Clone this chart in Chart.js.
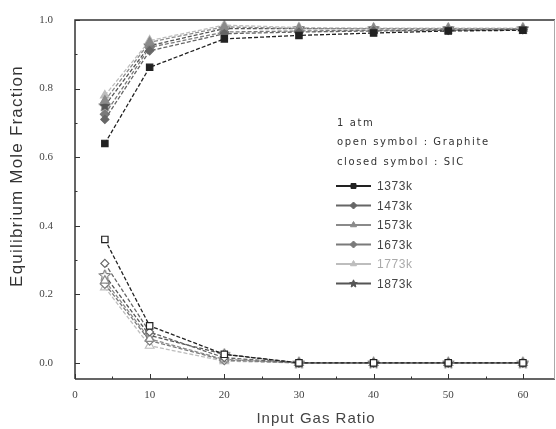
<!DOCTYPE html>
<html>
<head>
<meta charset="utf-8">
<script src="https://cdn.jsdelivr.net/npm/chart.js@4.4.0/dist/chart.umd.min.js"></script>
<style>
  body { margin: 0; background: #fff; }
  #wrap { width: 556px; height: 429px; position: relative; }
</style>
</head>
<body>
<div id="wrap"><canvas id="chart"></canvas></div>
<script>
// input gas ratio
const ratios = [4, 10, 20, 30, 40, 50, 60];
const temps = ["1373k", "1473k", "1573k", "1673k", "1773k", "1873k"];

// closed symbol : SiC
const sic1373 = [0.64, 0.862, 0.945, 0.955, 0.962, 0.968, 0.97];
const sic1473 = [0.71, 0.91, 0.96, 0.965, 0.968, 0.97, 0.972];
const sic1573 = [0.765, 0.935, 0.98, 0.975, 0.975, 0.975, 0.975];
const sic1673 = [0.725, 0.92, 0.965, 0.968, 0.97, 0.972, 0.973];
const sic1773 = [0.78, 0.94, 0.985, 0.978, 0.976, 0.976, 0.976];
const sic1873 = [0.75, 0.925, 0.975, 0.975, 0.975, 0.975, 0.975];

// open symbol : Graphite
const gr1373 = [0.36, 0.108, 0.025, 0.0, 0.0, 0.0, 0.0];
const gr1473 = [0.29, 0.09, 0.015, 0.0, 0.0, 0.0, 0.0];
const gr1573 = [0.24, 0.07, 0.01, 0.0, 0.0, 0.0, 0.0];
const gr1673 = [0.23, 0.065, 0.008, 0.0, 0.0, 0.0, 0.0];
const gr1773 = [0.22, 0.05, 0.005, 0.0, 0.0, 0.0, 0.0];
const gr1873 = [0.255, 0.08, 0.025, 0.0, 0.0, 0.0, 0.0];

const yTicks = [0, 0.2, 0.4, 0.6, 0.8, 1.0];
const xTicks = [0, 10, 20, 30, 40, 50, 60];

const colors = ["#222222", "#666666", "#8a8a8a", "#7a7a7a", "#bdbdbd", "#555555"];

// star marker drawn on a small canvas
function starCanvas(col, filled, size) {
    const c = document.createElement("canvas");
    c.width = size; c.height = size;
    const g = c.getContext("2d");
    const m = size / 2, R = size / 2 - 0.5;
    g.beginPath();
    for (let k = 0; k < 10; k++) {
        const r = k % 2 == 0 ? R : R * 0.45;
        const a = -Math.PI / 2 + k * Math.PI / 5;
        const px = m + r * Math.cos(a), py = m + 0.3 + r * Math.sin(a);
        if (k == 0) g.moveTo(px, py); else g.lineTo(px, py);
    }
    g.closePath();
    g.fillStyle = filled ? col : "#fff";
    g.fill();
    g.strokeStyle = col;
    g.lineWidth = 1;
    g.stroke();
    return c;
}

const styles = ["rect", "rectRot", "triangle", "rectRot", "triangle", "star"];
const radii = [4.5, 4, 5, 4.5, 5, 6];
const sicData = [sic1373, sic1473, sic1573, sic1673, sic1773, sic1873];
const grData = [gr1373, gr1473, gr1573, gr1673, gr1773, gr1873];

function mk(label, vals, i, filled) {
    let ps = styles[i];
    if (ps == "star") ps = starCanvas(colors[i], filled, 13);
    return {
        label: label,
        data: ratios.map((x, j) => ({ x: x, y: vals[j] })),
        borderColor: colors[i],
        backgroundColor: filled ? colors[i] : "#fff",
        pointBackgroundColor: filled ? colors[i] : "#fff",
        pointBorderColor: colors[i],
        pointStyle: ps,
        pointRadius: radii[i],
        pointBorderWidth: 1.2,
        borderWidth: 1.3,
        borderDash: [4, 2],
        tension: 0,
    };
}

const datasets = [];
temps.forEach((t, i) => datasets.push(mk(t, sicData[i], i, true)));
temps.forEach((t, i) => datasets.push(mk(t + " graphite", grData[i], i, false)));

// inward ticks, frame, axis titles and text legend
const extras = {
    id: "extras",
    afterDraw(chart) {
        const ctx = chart.ctx;
        const a = chart.chartArea;
        const xs = chart.scales.x, ys = chart.scales.y;
        ctx.save();
        ctx.strokeStyle = "#333";
        ctx.lineWidth = 1.5;
        ctx.beginPath();
        ctx.moveTo(a.left, a.bottom); ctx.lineTo(a.left, a.top); ctx.lineTo(a.right, a.top);
        ctx.moveTo(a.left, a.bottom); ctx.lineTo(a.right, a.bottom);
        ctx.stroke();
        ctx.strokeStyle = "#aaa";
        ctx.lineWidth = 1;
        ctx.beginPath();
        ctx.moveTo(a.right - 0.5, a.top); ctx.lineTo(a.right - 0.5, a.bottom);
        ctx.stroke();
        ctx.strokeStyle = "#333";
        ctx.beginPath();
        for (let v = 0; v <= 60; v += 5) {
            const px = Math.round(xs.getPixelForValue(v)) + 0.5;
            const len = v % 10 == 0 ? 5 : 2.5;
            ctx.moveTo(px, a.bottom); ctx.lineTo(px, a.bottom - len);
        }
        for (let k = 0; k <= 10; k++) {
            const py = Math.round(ys.getPixelForValue(k / 10)) + 0.5;
            const len = k % 2 == 0 ? 5 : 2.5;
            ctx.moveTo(a.left, py); ctx.lineTo(a.left + len, py);
        }
        ctx.stroke();

        // axis titles
        ctx.textAlign = "center";
        ctx.textBaseline = "middle";
        ctx.fillStyle = "#444";
        ctx.font = "15px 'Liberation Sans'";
        ctx.letterSpacing = "1px";
        ctx.fillText("Input Gas Ratio", 316, 419);
        ctx.save();
        ctx.translate(17, 176);
        ctx.rotate(-Math.PI / 2);
        ctx.fillStyle = "#333";
        ctx.font = "17px 'Liberation Sans'";
        ctx.letterSpacing = "1.2px";
        ctx.fillText("Equilibrium Mole Fraction", 0, 0);
        ctx.restore();

        // legend text
        ctx.textAlign = "left";
        ctx.fillStyle = "#333";
        ctx.font = "10px 'DejaVu Sans'";
        ctx.letterSpacing = "1.6px";
        ctx.fillText("1 atm", 337, 123);
        ctx.fillText("open symbol : Graphite", 337, 142);
        ctx.fillText("closed symbol : SIC", 337, 162);
        ctx.letterSpacing = "0.6px";
        ctx.font = "12px 'Liberation Sans'";
        for (let i = 0; i < 6; i++) {
            const ds = chart.data.datasets[i];
            const y = 186 + i * 19.5;
            ctx.strokeStyle = colors[i];
            ctx.fillStyle = colors[i];
            ctx.lineWidth = 2;
            ctx.setLineDash([]);
            ctx.beginPath();
            ctx.moveTo(336, y); ctx.lineTo(371, y);
            ctx.stroke();
            ctx.lineWidth = 1;
            const ps = i == 5 ? starCanvas(colors[i], true, 9) : ds.pointStyle;
            Chart.helpers.drawPoint(ctx, { pointStyle: ps, radius: 3.5, rotation: 0, borderWidth: 1 }, 353.5, y);
            ctx.fillStyle = i == 4 ? "#aaa" : "#444";
            ctx.fillText(temps[i], 377, y + 1);
        }
        ctx.restore();
    }
};

new Chart(document.getElementById("chart"), {
    type: "line",
    data: { datasets: datasets },
    options: {
        responsive: true,
        maintainAspectRatio: false,
        animation: false,
        layout: { autoPadding: false, padding: { left: 0, right: 1, top: 20, bottom: 0 } },
        plugins: { legend: { display: false }, tooltip: { enabled: false } },
        scales: {
            x: {
                type: "linear",
                min: 0,
                max: 64.3,
                afterBuildTicks(s) { s.ticks = xTicks.map(v => ({ value: v })); },
                afterFit(s) { s.height = 50; s.paddingLeft = 0; s.paddingRight = 0; },
                grid: { display: false, drawTicks: false },
                border: { display: false },
                ticks: { color: "#444", padding: 10, font: { family: "'Liberation Serif'", size: 11 } },
                title: { display: false },
            },
            y: {
                min: -0.047,
                max: 1.0,
                afterBuildTicks(s) { s.ticks = yTicks.map(v => ({ value: v })); },
                afterFit(s) { s.width = 75; s.paddingTop = 0; s.paddingBottom = 0; },
                grid: { display: false, drawTicks: false },
                border: { display: false },
                ticks: { color: "#444", padding: 22, font: { family: "'Liberation Serif'", size: 11 }, callback: v => v.toFixed(1) },
                title: { display: false },
            },
        },
    },
    plugins: [extras],
});
</script>
</body>
</html>
